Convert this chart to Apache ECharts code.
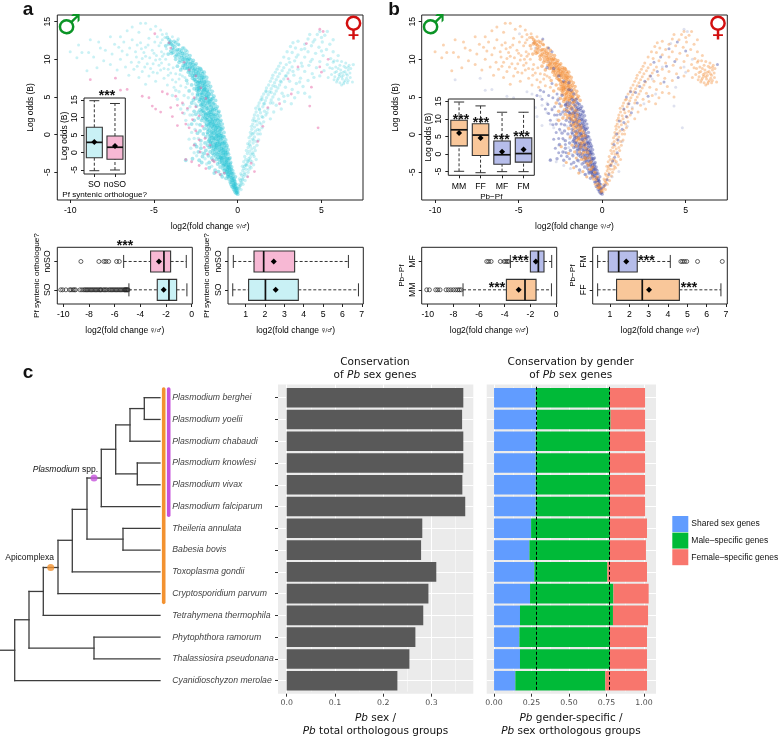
<!DOCTYPE html>
<html><head><meta charset="utf-8">
<script src="https://cdn.jsdelivr.net/npm/echarts@6/dist/echarts.min.js"></script>
<style>html,body{margin:0;padding:0;background:#fff}#c{width:779px;height:737px}</style>
</head><body><div id="c"></div>
<script>
// ---------- volcano points: [log2FC, log odds] ----------
const bandUpperOrange=[[-2.2,7.9],[-2.05,7.6],[-2.35,8.2],[-2.5,8.4],[-2.15,7.2],[-1.95,7.0],[-2.3,7.5],[-2.45,7.9],[-2.6,8.7],[-2.75,9.1],[-2.4,8.6],[-2.55,9.2],[-2.85,9.4],[-2.95,9.8],[-2.7,9.6],[-3.05,10.2],[-3.2,10.4],[-2.9,10.1],[-3.1,9.6],[-3.3,10.8],[-3.45,10.9],[-3.6,11.3],[-3.35,11.1],[-3.75,11.7],[-3.9,11.5],[-4.05,12.2],[-4.1,12.6],[-3.95,12.0],[-3.8,12.4],[-4.2,12.9],[-4.3,11.8],[-3.65,10.6],[-3.5,10.3],[-3.85,10.9],[-4.0,11.1],[-4.15,10.7],[-2.1,8.1],[-2.25,8.8],[-2.65,8.2],[-2.8,8.6],[-3.0,9.0],[-3.15,9.2],[-3.3,9.7],[-3.45,9.9],[-3.25,10.0],[-3.7,10.0],[-2.0,6.5],[-2.1,6.8],[-2.25,6.9],[-2.4,7.0],[-2.55,7.3],[-1.85,6.3],[-1.95,6.1],[-2.2,6.3],[-2.35,6.5],[-2.5,6.7],[-1.9,5.6],[-2.05,5.8],[-2.15,5.5],[-2.3,5.9],[-1.75,5.1],[-1.85,4.9],[-2.0,5.1],[-2.2,4.9],[-2.4,5.4],[-2.6,6.1],[-2.7,7.5],[-2.85,7.9],[-2.95,8.3],[-3.4,8.6],[-3.6,9.1],[-2.75,6.6],[-3.05,7.2],[-2.9,5.8],[-1.65,4.4],[-1.8,4.2],[-1.95,4.5],[-2.1,4.1],[-2.3,4.4],[-2.5,4.8],[-1.6,3.9],[-1.75,3.6],[-1.9,3.4],[-2.05,3.7],[-2.25,3.3],[-2.45,3.8],[-1.5,3.2],[-1.65,3.0],[-1.8,2.8],[-2.6,3.1],[-2.75,4.2],[-2.2,2.7],[-1.45,2.5],[-1.55,2.2],[-1.7,2.4],[-1.9,2.1],[-2.05,2.5],[-2.35,2.2],[-1.35,1.9],[-1.5,1.6],[-1.65,1.8],[-1.85,1.4],[-2.6,1.9],[-1.25,1.2],[-1.4,1.1],[-1.6,0.9],[-1.75,1.1],[-2.0,0.8],[-1.2,0.6],[-1.35,0.4],[-1.55,0.3],[-1.7,0.6],[-1.1,0.0],[-1.25,-0.2],[-1.45,-0.4],[-1.6,-0.1],[-1.9,-0.3],[-1.0,-0.6],[-1.2,-0.9],[-1.35,-1.1],[-1.55,-0.8],[-0.95,-1.3],[-1.1,-1.6],[-1.3,-1.8],[-0.85,-2.0],[-1.0,-2.3],[-1.2,-2.6],[-0.75,-2.7],[-0.9,-3.1],[-1.1,-3.3],[-0.65,-3.5],[-0.8,-3.9],[-0.6,-4.3],[-0.5,-5.0],[-0.35,-5.7],[-0.25,-6.4],[-0.15,-7.0]];
const bandLowerBlue=[[-1.15,2.9],[-1.3,3.5],[-1.45,4.1],[-1.55,4.7],[-1.7,5.4],[-1.85,5.9],[-2.0,6.9],[-1.05,1.7],[-1.15,2.2],[-1.3,2.7],[-1.4,3.3],[-1.6,2.7],[-1.75,3.2],[-1.95,2.9],[-2.15,3.1],[-2.35,3.0],[-0.95,0.7],[-1.05,1.1],[-1.15,1.5],[-1.3,0.8],[-1.45,1.4],[-1.7,1.5],[-1.95,1.7],[-2.15,1.9],[-2.25,1.3],[-0.88,-0.2],[-1.0,0.2],[-1.15,-0.4],[-1.3,0.1],[-1.45,0.6],[-1.65,-0.5],[-1.8,0.3],[-2.05,0.1],[-2.25,0.5],[-0.78,-1.0],[-0.9,-0.9],[-1.05,-1.2],[-1.2,-0.6],[-1.4,-1.4],[-1.6,-1.2],[-1.75,-0.9],[-1.95,-1.1],[-2.2,-0.8],[-0.68,-1.7],[-0.8,-1.5],[-0.92,-2.1],[-1.1,-2.0],[-1.25,-1.4],[-1.45,-1.9],[-1.7,-1.7],[-1.9,-2.1],[-2.2,-1.8],[-0.62,-2.4],[-0.72,-2.1],[-0.85,-2.7],[-1.0,-2.8],[-1.3,-2.9],[-1.5,-2.5],[-1.75,-2.8],[-2.1,-2.9],[-0.52,-3.2],[-0.65,-3.0],[-0.78,-3.4],[-0.95,-3.6],[-1.2,-3.9],[-1.45,-3.4],[-1.7,-3.7],[-2.3,-3.4],[-0.45,-3.9],[-0.55,-4.0],[-0.7,-4.2],[-0.88,-4.5],[-1.05,-4.3],[-1.35,-4.7],[-0.38,-4.6],[-0.5,-4.7],[-0.62,-4.9],[-0.78,-5.1],[-1.0,-5.3],[-0.32,-5.2],[-0.42,-5.4],[-0.55,-5.6],[-0.7,-5.8],[-0.22,-5.9],[-0.3,-6.1],[-0.45,-6.3],[-0.15,-6.5],[-0.22,-6.8],[-0.35,-6.9],[-0.08,-7.2],[-0.14,-7.4],[-0.24,-7.3],[-0.04,-7.7],[-0.09,-7.8],[0.0,-7.9],[-0.18,-6.2],[-0.6,-5.2],[-0.47,-4.2],[-0.57,-3.4],[-0.7,-2.6],[-0.82,-1.2],[-0.98,-0.1],[-1.1,0.9],[-1.22,2.0],[-1.37,2.4],[-1.52,3.4],[-1.68,4.0],[-1.8,4.7],[-2.0,6.0],[-2.3,7.1],[-2.6,7.8],[-2.9,8.8],[-3.3,8.9],[-2.4,5.2],[-2.65,4.6],[-2.2,3.9],[-2.5,2.7],[-2.75,1.4],[-2.4,0.2],[-2.55,-1.3],[-2.35,-2.3],[-2.7,-3.2],[-3.1,-3.4]];
const bandCoreOrange=[[-1.02,-0.15],[-1.12,0.35],[-1.27,0.95],[-1.38,1.75],[-1.5,2.7],[-1.62,3.3],[-1.72,4.3],[-1.87,5.2],[-2.02,6.3],[-2.18,7.0],[-1.42,-0.7],[-1.28,-1.55],[-1.12,-2.35],[-0.97,-3.2],[-0.82,-4.1],[-0.65,-4.6],[-0.55,-4.3],[-0.42,-5.0],[-0.6,-5.5],[-0.28,-5.6],[-0.37,-6.0],[-0.2,-6.6],[-0.12,-6.9],[-0.03,-7.4],[-0.07,-7.6],[-0.19,-7.1],[-0.75,-3.1],[-0.68,-3.7],[-0.87,-2.4],[-0.98,-1.8],[-1.08,-1.0],[-1.18,-0.2],[-1.33,0.6],[-1.47,1.3],[-1.58,2.0],[-1.73,2.6],[-1.88,3.8],[-2.03,4.6],[-2.13,5.3],[-2.28,6.2],[-2.42,6.1],[-2.18,4.6],[-2.08,3.2],[-1.82,2.3],[-1.68,1.3],[-1.52,0.1],[-1.38,-0.5],[-1.22,-1.2],[-1.05,-3.0],[-0.92,-3.8],[-0.75,-4.6],[-0.52,-5.9],[-0.4,-6.6],[-0.28,-7.0],[-1.48,0.85],[-1.62,1.45],[-1.78,1.95],[-1.92,2.55],[-2.1,2.2],[-1.35,-2.3],[-1.55,-1.5],[-1.8,-1.4],[-1.65,-2.3],[-2.0,-2.5],[-2.45,-1.6],[-2.15,-3.7],[-1.55,-3.1],[-1.25,-3.3],[-1.7,-4.4],[-1.4,-5.1],[-1.15,-4.9],[-0.92,-5.6]];
const denseBlue=[[-0.06,-7.1],[-0.17,-7.6],[-0.11,-6.6],[-0.27,-6.7],[-0.2,-6.1],[-0.38,-6.3],[-0.14,-5.6],[-0.33,-5.8],[-0.48,-5.5],[-0.24,-5.2],[-0.4,-5.1],[-0.57,-5.3],[-0.66,-5.0],[-0.3,-4.8],[-0.46,-4.6],[-0.62,-4.7],[-0.8,-4.8],[-0.36,-4.3],[-0.53,-4.4],[-0.7,-4.0],[-0.88,-4.1],[-0.42,-3.7],[-0.6,-3.8],[-0.76,-3.6],[-0.95,-3.4],[-1.08,-3.7],[-0.46,-3.1],[-0.63,-3.2],[-0.83,-3.0],[-1.0,-3.1],[-1.17,-3.0],[-0.55,-2.6],[-0.72,-2.4],[-0.9,-2.5],[-1.08,-2.7],[-1.28,-2.5],[-1.42,-2.7],[-0.57,-2.0],[-0.75,-2.2],[-0.94,-1.9],[-1.14,-2.1],[-1.33,-2.0],[-1.5,-2.1],[-0.63,-1.5],[-0.84,-1.7],[-1.03,-1.5],[-1.22,-1.7],[-1.4,-1.6],[-1.58,-1.6],[-0.7,-1.2],[-0.9,-1.1],[-1.1,-1.3],[-1.3,-1.2],[-1.5,-1.1],[-1.63,-1.0],[-0.72,-0.7],[-0.93,-0.5],[-1.13,-0.8],[-1.32,-0.6],[-1.55,-0.4],[-1.7,-0.7],[-0.8,-0.3],[-1.02,-0.4],[-1.24,-0.1],[-1.42,-0.2],[-1.66,-0.2],[-0.82,0.3],[-1.05,0.5],[-1.22,0.2],[-1.42,0.2],[-1.6,0.4],[-1.78,0.1],[-0.88,0.9],[-1.02,0.75],[-1.2,1.0],[-1.36,1.25],[-1.55,1.1],[-1.8,0.7],[-0.92,1.4],[-1.1,1.3],[-1.28,1.5],[-1.53,1.75],[-1.72,1.7],[-1.88,1.2],[-1.0,1.9],[-1.18,1.85],[-1.32,2.15],[-1.48,2.05],[-1.62,2.35],[-1.83,1.95],[-1.96,2.2],[-1.05,2.5],[-1.22,2.55],[-1.42,2.8],[-1.58,3.0],[-1.72,2.85],[-1.9,2.7],[-2.02,3.0],[-1.12,3.1],[-1.27,3.2],[-1.44,3.6],[-1.58,3.7],[-1.83,3.5],[-1.98,3.9],[-2.12,3.5],[-1.22,3.7],[-1.36,4.0],[-1.52,4.3],[-1.72,4.5],[-1.92,4.2],[-2.08,4.3],[-2.18,4.0]];
const denseOrange=[[-1.32,4.55],[-1.48,4.85],[-1.63,4.7],[-1.78,5.0],[-1.95,4.8],[-2.12,4.9],[-2.28,4.7],[-1.42,5.1],[-1.57,5.35],[-1.75,5.55],[-1.93,5.35],[-2.1,5.6],[-2.25,5.3],[-2.35,5.7],[-1.52,5.75],[-1.68,6.0],[-1.82,5.75],[-2.0,5.95],[-2.18,6.0],[-2.32,6.15],[-2.45,5.9],[-1.62,6.4],[-1.78,6.55],[-1.93,6.7],[-2.1,6.5],[-2.27,6.6],[-2.44,6.4],[-1.72,6.9],[-1.86,7.15],[-2.03,7.3],[-2.18,7.5],[-2.35,6.9],[-2.5,7.1],[-2.6,7.3],[-1.85,7.6],[-1.98,7.8],[-2.12,7.65],[-2.28,7.9],[-2.42,7.6],[-2.55,7.9],[-2.7,7.8],[-2.0,8.3],[-2.15,8.4],[-2.32,8.35],[-2.48,8.1],[-2.62,8.5],[-2.78,8.2],[-2.9,8.5],[-2.2,8.7],[-2.38,8.9],[-2.55,8.8],[-2.7,8.9],[-2.85,9.0],[-3.02,8.8],[-3.15,8.8],[-2.48,9.4],[-2.65,9.3],[-2.8,9.5],[-2.98,9.4],[-3.12,9.4],[-3.25,9.2],[-2.65,9.85],[-2.82,10.0],[-3.0,9.95],[-3.15,10.0],[-3.32,10.2],[-3.5,9.6],[-2.85,10.5],[-3.02,10.6],[-3.18,10.8],[-3.36,10.5],[-3.55,10.7],[-3.72,10.4],[-3.1,11.2],[-3.28,11.5],[-3.47,11.3],[-3.65,11.1],[-3.82,11.3],[-3.95,10.8],[-3.55,12.0],[-3.7,12.2],[-3.88,11.9],[-4.0,12.4],[-4.12,12.05]];
const upperCloudOrange=[[-5.8,14.8],[-5.5,14.8],[-6.3,14.3],[-4.9,14.4],[-4.6,13.9],[-5.2,14.0],[-5.9,13.6],[-6.6,13.8],[-7.0,13.0],[-7.6,13.0],[-8.3,12.3],[-8.8,12.6],[-9.5,11.9],[-10.0,11.0],[-9.3,10.9],[-8.6,10.3],[-8.0,9.8],[-7.5,10.7],[-7.1,11.6],[-6.8,12.3],[-6.3,12.6],[-5.8,12.2],[-5.3,12.8],[-4.8,13.0],[-4.5,12.6],[-4.7,11.8],[-5.1,11.2],[-5.6,10.9],[-6.1,11.0],[-6.6,10.6],[-7.0,10.0],[-7.6,9.3],[-8.4,8.9],[-9.0,8.5],[-5.9,9.6],[-5.4,9.4],[-4.9,9.9],[-4.5,10.4],[-4.3,10.0],[-4.7,9.2],[-5.2,8.8],[-5.7,8.4],[-6.2,8.7],[-6.7,9.0],[-7.2,8.6],[-6.5,7.9],[-5.9,7.6],[-5.3,7.8],[-4.8,8.2],[-4.4,8.8],[-4.1,9.3],[-4.0,8.2],[-4.4,7.5],[-4.9,7.1],[-5.5,6.7],[-3.9,7.3],[-3.7,8.1],[-3.5,7.4],[-4.2,6.6],[-3.8,6.3],[-3.4,6.5],[-3.3,7.8],[-3.1,6.3],[-4.6,12.2],[-4.35,12.9],[-4.5,13.3],[-4.25,13.4],[-3.9,13.0],[-5.5,11.6],[-6.0,11.9],[-6.9,11.1],[-4.25,11.4],[-4.55,11.0],[-4.4,10.7],[-4.85,10.5],[-5.25,10.2],[-5.7,10.1],[-6.35,9.6],[-3.6,12.5],[-3.5,11.9],[-4.95,12.3],[-5.35,11.9],[-5.75,11.4],[-6.45,11.5],[-7.35,12.0],[-7.9,11.2],[-8.9,10.9],[-9.6,10.2],[-8.2,11.5],[-6.05,10.3],[-5.0,10.8],[-5.5,10.4],[-4.65,10.0],[-5.05,9.4],[-5.55,9.0],[-6.0,9.1],[-4.55,9.5],[-4.15,8.7],[-4.6,8.6],[-5.05,8.3],[-3.85,8.9],[-3.45,8.0],[-3.15,7.6],[-4.15,7.9],[-3.7,7.0]];
const midScatterBlue=[[-3.5,5.7],[-3.2,5.2],[-2.95,4.9],[-3.25,4.0],[-3.6,4.7],[-3.9,5.2],[-3.0,3.3],[-2.85,2.6],[-3.2,2.8],[-2.95,1.3],[-2.75,0.3],[-2.9,-0.6],[-3.1,1.9],[-3.4,3.4],[-3.0,6.8],[-3.7,5.9],[-2.8,-1.8],[-2.6,-2.4],[-3.55,12.7],[-3.2,11.5],[-3.0,11.0],[-2.7,5.4],[-2.85,3.7],[-2.55,4.1],[-2.7,2.6],[-2.45,1.4],[-2.55,0.7],[-2.35,-0.5],[-2.6,-0.5],[-2.2,-1.3],[-2.45,-2.8],[-2.15,-2.4],[-1.95,-3.2],[-1.85,-3.9],[-1.55,-4.2]];
const rightBandOrange=[[0.05,-7.6],[0.1,-7.1],[0.14,-6.8],[0.2,-6.3],[0.27,-5.9],[0.24,-5.4],[0.35,-5.6],[0.42,-5.1],[0.3,-4.8],[0.5,-4.6],[0.62,-5.0],[0.4,-4.2],[0.55,-3.9],[0.72,-4.2],[0.48,-3.3],[0.66,-3.2],[0.85,-3.6],[0.58,-2.5],[0.78,-2.6],[0.98,-2.9],[0.63,-1.7],[0.84,-1.9],[1.05,-2.1],[0.72,-0.9],[0.92,-1.1],[1.15,-1.4],[0.78,-0.1],[1.0,-0.3],[1.25,-0.7],[0.84,0.7],[1.07,0.5],[1.35,0.1],[0.9,1.4],[1.15,1.3],[1.45,0.9],[0.97,2.2],[1.25,2.1],[1.55,1.7],[1.1,3.0],[1.36,2.9],[1.68,2.6],[1.95,2.1],[1.22,3.8],[1.5,3.7],[1.8,3.4],[2.15,3.0],[1.38,4.6],[1.65,4.5],[1.95,4.2],[2.3,3.9],[2.6,3.4],[1.55,5.4],[1.82,5.3],[2.1,5.0],[2.45,4.7],[2.8,4.4],[3.2,4.1],[1.72,6.2],[2.0,6.1],[2.3,5.8],[2.65,5.5],[3.0,5.2],[3.4,4.9],[1.95,7.1],[2.2,6.9],[2.5,6.6],[2.85,6.3],[3.25,6.0],[3.6,5.6],[4.0,5.5],[2.1,7.9],[2.4,7.7],[2.75,7.4],[3.1,7.1],[3.5,6.8],[3.9,6.4],[4.3,5.0],[2.35,8.7],[2.65,8.5],[3.0,8.2],[3.35,7.9],[3.75,7.5],[4.2,7.2],[2.55,9.5],[2.9,9.3],[3.25,9.0],[3.6,8.7],[4.0,8.4],[4.45,8.1],[4.9,7.8],[2.75,10.3],[3.05,10.1],[3.4,9.8],[3.8,9.5],[4.25,9.2],[4.7,8.9],[5.15,8.5],[2.95,11.0],[3.25,10.9],[3.6,10.6],[4.0,10.3],[4.45,10.0],[4.9,9.7],[5.35,9.3],[3.15,11.7],[3.45,11.5],[3.8,11.3],[4.2,11.0],[4.65,10.8],[5.1,10.5],[5.55,10.1],[3.3,12.2],[3.6,12.4],[4.0,12.0],[4.4,11.8],[4.85,11.6],[5.3,11.3],[5.7,11.0],[4.2,12.7],[4.6,12.6],[5.05,12.3],[5.5,12.0],[4.3,13.3],[4.75,13.3],[5.2,13.2],[4.9,13.7],[5.35,13.7],[5.0,12.9],[5.7,12.6],[6.0,10.5],[5.75,9.8],[0.2,-7.3],[0.32,-6.6],[0.44,-6.1],[0.55,-5.5],[0.68,-4.6],[0.8,-4.4],[0.95,-4.0],[1.1,-3.3],[0.03,-7.2],[0.09,-6.6],[0.16,-6.1],[0.11,-5.9],[0.25,-6.4],[0.19,-5.2],[0.36,-4.5],[0.28,-4.2],[0.47,-4.0],[0.36,-3.6],[0.6,-3.6],[0.42,-2.9],[0.74,-3.4],[0.52,-2.1],[0.7,-2.2],[0.92,-2.6],[0.6,-1.2],[0.76,-1.5],[1.0,-1.7],[0.68,-0.4],[0.88,-0.6],[1.1,-0.9],[0.76,0.3],[0.95,0.2],[1.2,0.1],[0.82,1.1],[1.0,1.0],[1.3,0.6],[0.9,1.9],[1.12,1.8],[1.4,1.4],[1.0,2.6],[1.2,2.5],[1.5,2.3],[1.08,3.5],[1.3,3.3],[1.6,3.1],[1.28,4.2],[1.55,4.1],[1.45,4.7],[1.72,4.9],[2.0,4.6],[1.68,5.8],[1.9,5.7],[2.2,5.4],[1.85,6.6],[2.1,6.5],[2.4,6.2],[2.05,7.5],[2.3,7.3],[2.6,7.0],[2.25,8.3],[2.5,8.1],[2.85,7.8],[2.45,9.1],[2.75,8.9],[3.1,8.6]];
const rightClusterOrange=[[5.7,9.6],[5.95,9.8],[6.2,9.7],[6.45,9.5],[6.65,9.2],[6.75,8.8],[6.6,8.6],[6.35,9.1],[6.1,9.2],[5.85,9.0],[5.65,8.8],[5.9,8.4],[6.15,8.6],[6.4,8.4],[6.7,8.2],[6.55,7.9],[6.3,7.9],[6.05,8.0],[5.8,7.7],[5.6,8.0],[5.75,7.3],[6.0,7.5],[6.25,7.4],[6.5,7.5],[6.72,7.6],[6.35,7.0],[6.1,6.9],[5.9,7.0],[6.2,6.6],[6.55,6.9],[6.45,8.9],[5.5,8.9],[5.4,7.6],[6.85,7.0],[6.3,8.3],[6.0,8.8],[6.22,7.7],[6.42,7.2],[6.48,8.1],[6.6,7.2],[6.15,8.15],[5.95,7.25],[6.08,7.75],[6.32,6.75],[6.6,8.95],[5.8,8.25]];
const rightBlue=[[0.08,-6.9],[0.18,-6.7],[0.3,-6.0],[0.4,-5.3],[0.52,-4.1],[0.63,-3.5],[0.75,-3.0],[0.9,-2.4],[0.7,-1.3],[0.95,-0.7],[0.87,0.1],[1.2,0.7],[1.02,1.8],[1.3,1.6],[1.45,2.4],[1.75,2.9],[1.3,3.4],[1.6,4.1],[1.45,5.0],[1.7,5.7],[2.0,5.6],[2.25,6.4],[2.55,7.1],[2.9,7.8],[3.3,8.4],[3.1,9.6],[3.5,10.3],[3.85,9.1],[4.35,9.7],[4.0,11.4],[4.5,12.3],[4.55,7.6],[3.7,7.0],[2.75,5.1],[6.9,9.3],[5.0,11.1],[2.1,4.2]];
const pinkPoints=[[-8.8,7.3],[-7.3,7.5],[-6.6,6.0],[-7.0,5.9],[-5.7,5.1],[-5.3,4.9],[-5.1,3.8],[-4.5,5.7],[-4.2,5.4],[-4.9,3.4],[-4.6,3.0],[-4.0,3.6],[-3.7,5.1],[-3.3,4.2],[-3.6,3.9],[-3.9,2.4],[-3.3,2.9],[-3.0,3.5],[-3.1,1.4],[-3.6,1.2],[-2.6,4.9],[-2.5,3.7],[-2.7,2.0],[-2.9,0.9],[-2.3,2.5],[-2.5,0.5],[-2.1,1.1],[-2.3,-0.7],[-2.6,-1.4],[-2.0,-1.7],[-2.25,-2.3],[-1.8,-2.6],[-1.95,-0.5],[-3.1,-3.3],[-2.75,-3.6],[-2.3,-4.1],[-1.9,-4.5],[-1.5,-3.4],[-1.3,-5.0],[-1.05,-5.3],[-0.8,-5.1],[-1.65,-1.4],[-1.4,-3.6],[-4.95,13.4],[-4.1,12.2],[-4.0,11.5],[-2.9,8.6],[-3.2,9.6],[-2.5,7.8],[-2.2,6.2],[-1.9,4.8],[4.9,14.0],[5.1,13.7],[4.1,12.1],[3.6,9.0],[3.0,7.4],[4.4,6.3],[5.0,8.3],[4.3,3.8],[4.8,0.9],[2.5,4.1],[1.8,3.6],[1.5,1.1],[1.2,-0.9],[0.8,-3.8],[0.6,-5.6],[1.0,-4.9],[4.9,9.0],[3.2,5.4],[5.4,10.0]];

// ---------- inset and lower box plots: [category, low, q1, median, q3, high, mean] ----------
const soCategories=['SO','noSO'];
const insetSO=[[0,-5.2,-1.5,2.9,7.2,14.8,3.0],[1,-5.0,-1.94,1.5,4.7,14.0,1.86]];
const pbPfCategories=['MM','FF','MF','FM'];
const insetPbPf=[[0,-4.9,2.34,6.9,9.6,14.8,5.97],[1,-5.3,-0.43,5.4,8.6,13.7,4.54],[2,-5.0,-2.9,-0.2,3.7,11.9,0.63],[3,-5.0,-2.3,0.14,4.6,11.9,1.29]];
const lowerSyntenyCats=['SO','noSO'];
const maleFCSynteny=[[0,-4.89,-2.68,-1.77,-1.17,-0.37,-2.18],[1,-5.3,-3.2,-2.16,-1.64,-0.42,-2.55]];
const femaleFCSynteny=[[0,0.33,1.15,2.02,3.72,6.83,2.55],[1,0.36,1.43,1.93,3.53,6.31,2.45]];
const maleOutliersSO=[-10.2,-10.05,-9.8,-9.5,-9.4,-9.25,-9.15,-9.05,-8.7,-8.55,-8.4,-8.3,-8.2,-8.1,-8.0,-7.9,-7.8,-7.7,-7.6,-7.5,-7.4,-7.3,-7.2,-7.1,-7.05,-6.9,-6.8,-6.7,-6.6,-6.45,-6.35,-6.25,-6.15,-6.05,-5.95,-5.85,-5.75,-5.65,-5.55,-5.45,-5.35,-5.25,-5.2,-5.15,-5.1,-5.05,-5.0,-4.95];
const maleOutliersNoSO=[-8.63,-7.23,-6.84,-6.68,-6.47,-5.85,-5.64];
const malePbPfCats=['MM','MF'];
const malePbPf=[[0,-7.25,-3.87,-2.42,-1.56,-0.36,-2.91],[1,-3.56,-2.0,-1.38,-0.94,-0.34,-1.58]];
const maleOutliersMM=[-10.08,-9.87,-9.38,-9.22,-9.04,-8.57,-8.39,-8.2,-8.0,-7.82,-7.66,-7.53,-7.4];
const maleOutliersMF=[-5.4,-5.25,-5.06,-4.34,-4.05,-3.92,-3.79,-3.69];
const femalePbPfCats=['FF','FM'];
const femalePbPf=[[0,0.36,1.34,2.67,4.59,6.74,3.02],[1,0.36,0.91,1.45,2.41,4.12,1.84]];
const femaleOutliersFM=[4.67,4.76,4.86,4.97,5.53,6.81];

// ---------- panel c ----------
const species=['Plasmodium berghei','Plasmodium yoelii','Plasmodium chabaudi','Plasmodium knowlesi','Plasmodium vivax','Plasmodium falciparum','Theileria annulata','Babesia bovis','Toxoplasma gondii','Cryptosporidium parvum','Tetrahymena thermophila','Phytophthora ramorum','Thalassiosira pseudonana','Cyanidioschyzon merolae'];
const pbSexShare=[.366,.3635,.366,.366,.364,.37,.281,.2785,.31,.2937,.283,.2667,.2543,.2294];
const sharedShare=[.278,.284,.278,.278,.278,.278,.247,.236,.269,.24,.173,.169,.173,.142];
const maleShare=[.495,.493,.495,.495,.495,.495,.526,.537,.487,.556,.62,.604,.6,.6];
const femaleShare=[.234,.23,.234,.234,.234,.234,.247,.24,.264,.235,.234,.247,.247,.278];
const genderGuides=[.278,.773];
const legendNames=['Shared sex genes','Male–specific genes','Female–specific genes'];
// tree edges in [depth, row, depth, row]
const treeEdges=[[144.3,1,160,1],[144.3,2,160,2],[144.3,1,144.3,2],[130,1.5,144.3,1.5],[130,3,160,3],[130,1.5,130,3],[137.3,4,160,4],[137.3,5,160,5],[137.3,4,137.3,5],[115.7,2.25,130,2.25],[115.7,4.5,137.3,4.5],[115.7,2.25,115.7,4.5],[101.3,3.37,115.7,3.37],[101.3,6,160,6],[101.3,3.37,101.3,6],[123,7,160,7],[123,8,160,8],[123,7,123,8],[87,4.69,101.3,4.69],[87,7.5,123,7.5],[87,4.69,87,7.5],[72.3,6.13,87,6.13],[72.3,9,160,9],[72.3,6.13,72.3,9],[58,7.55,72.3,7.55],[58,10,160,10],[58,7.55,58,10],[43.3,8.8,58,8.8],[43.3,11,160,11],[43.3,8.8,43.3,11],[94,12,160,12],[94,13,160,13],[94,12,94,13],[29,9.9,43.3,9.9],[29,12.5,94,12.5],[29,9.9,29,12.5],[14.7,11.2,29,11.2],[14.7,14,160,14],[14.7,11.2,14.7,14],[0,12.6,14.7,12.6]];
const cladeBars=[[163.7,0.6,163.7,10.4,'#F39230'],[168.7,0.6,168.7,6.4,'#C552DC']];
const cladeDots=[[94,4.69,'#C552DC'],[50.7,8.8,'#F39230']];

// ---------- helpers ----------
const SANS='"Liberation Sans",Arial,sans-serif', DJV='"DejaVu Sans",sans-serif';
const cyan='rgba(38,196,212,.5)', cyanPale='rgba(38,196,212,.3)', orange='rgba(243,140,50,.62)', orangePale='rgba(243,146,62,.5)', blue='rgba(56,66,160,.5)', pink='rgba(232,110,170,.65)', paleBlue='rgba(120,130,190,.3)';
const grids=[], xAxes=[], yAxes=[], series=[];
function addGrid(l,t,r,b,opt){grids.push(Object.assign({left:l,top:t,width:r-l,height:b-t,show:true,backgroundColor:'transparent',borderColor:'#222',borderWidth:1,containLabel:false},opt||{}));return grids.length-1;}
const baseLabel={fontFamily:SANS,fontSize:8.7,color:'#000'};
const nameStyle=size=>({fontFamily:SANS,fontSize:size||8.5,color:'#000',rich:{s:{fontFamily:DJV,fontSize:5.5,color:'#111'}}});
function valX(g,min,max,ticks,extra){return Object.assign({type:'value',gridIndex:g,min,max,position:'bottom',axisLine:{show:false,onZero:false},splitLine:{show:false},axisTick:{show:true,length:3,customValues:ticks,lineStyle:{color:'#222'}},axisLabel:Object.assign({},baseLabel,{margin:6,customValues:ticks,hideOverlap:false,showMinLabel:true,showMaxLabel:true}),nameLocation:'middle',nameGap:22,nameTextStyle:nameStyle()},extra||{});}
function valY(g,min,max,ticks,extra){return Object.assign({type:'value',gridIndex:g,min,max,position:'left',axisLine:{show:false,onZero:false},splitLine:{show:false},axisTick:{show:true,length:3,customValues:ticks,lineStyle:{color:'#222'}},axisLabel:Object.assign({},baseLabel,{rotate:90,margin:5,customValues:ticks,showMinLabel:true,showMaxLabel:true}),nameLocation:'middle',nameGap:22,nameRotate:90,nameTextStyle:nameStyle()},extra||{});}
function catAxis(g,data,extra){return Object.assign({type:'category',gridIndex:g,data,axisLine:{show:false,onZero:false},splitLine:{show:false},axisTick:{show:true,length:3,alignWithLabel:true,lineStyle:{color:'#222'}},axisLabel:Object.assign({},baseLabel,{interval:0,margin:5}),nameLocation:'middle',nameTextStyle:nameStyle(8.1)},extra||{});}
function boxRender(horizontal,thick,colors){return function(p,api){
  const c=api.value(0),v=i=>api.value(i);
  const pt=(val,off)=>{const q=horizontal?api.coord([val,c]):api.coord([c,val]);return horizontal?[q[0],q[1]+(off||0)]:[q[0]+(off||0),q[1]];};
  const ln=(a,b,style)=>({type:'line',shape:{x1:a[0],y1:a[1],x2:b[0],y2:b[1]},style});
  const dash={stroke:'#333',lineWidth:1,lineDash:[3,2]},solid={stroke:'#333',lineWidth:1};
  const h=thick/2,cap=h*0.62;
  const a=pt(v(2),-h),b=pt(v(4),h);
  const mid=pt(v(6),0),d=3;
  return {type:'group',children:[
    ln(pt(v(1)),pt(v(2)),dash),ln(pt(v(4)),pt(v(5)),dash),
    ln(pt(v(1),-cap),pt(v(1),cap),solid),ln(pt(v(5),-cap),pt(v(5),cap),solid),
    {type:'rect',shape:{x:Math.min(a[0],b[0]),y:Math.min(a[1],b[1]),width:Math.abs(a[0]-b[0]),height:Math.abs(a[1]-b[1])},style:{fill:colors[c],stroke:'#333',lineWidth:1.1}},
    ln(pt(v(3),-h),pt(v(3),h),{stroke:'#111',lineWidth:1.7}),
    {type:'polygon',shape:{points:[[mid[0]-d,mid[1]],[mid[0],mid[1]-d],[mid[0]+d,mid[1]],[mid[0],mid[1]+d]]},style:{fill:'#000'}}
  ]};
};}
function addBoxes(g,data,horizontal,thick,colors,z){series.push({type:'custom',xAxisIndex:g,yAxisIndex:g,z:z||3,clip:false,renderItem:boxRender(horizontal,thick,colors),encode:horizontal?{x:[1,2,3,4,5,6],y:0}:{x:0,y:[1,2,3,4,5,6]},data});}
function addOutliers(g,values,cat){series.push({type:'scatter',xAxisIndex:g,yAxisIndex:g,z:2,symbol:'circle',symbolSize:4,itemStyle:{color:'rgba(255,255,255,0)',borderColor:'#222',borderWidth:.7,opacity:1},data:values.map(v=>[v,cat])});}
function scatter(g,data,color,size){series.push({type:'scatter',xAxisIndex:g,yAxisIndex:g,z:2,symbolSize:size||3,itemStyle:{color,borderWidth:0},data,large:false});}
const volX=[-10,-5,0,5],volY=[-5,0,5,10,15];
const log2Name='log2(fold change {s|♀/♂})';

// ---------- panel a ----------
let g=addGrid(57.3,15,363,200);
xAxes.push(valX(g,-10.77,7.48,volX,{name:log2Name,nameGap:22.5}));
yAxes.push(valY(g,-8.68,15.89,volY,{name:'Log odds (B)',nameGap:22}));
[upperCloudOrange,rightClusterOrange].forEach(d=>scatter(g,d,cyanPale,3));
[bandUpperOrange,denseOrange,bandLowerBlue,denseBlue,bandCoreOrange].forEach(d=>scatter(g,d,cyan,3.8));
[midScatterBlue,rightBandOrange,rightBlue].forEach(d=>scatter(g,d,cyanPale,3.4));
scatter(g,pinkPoints,pink,2.8);
g=addGrid(84,98,125.3,174,{z:5,backgroundColor:'#fff'});
xAxes.push(catAxis(g,soCategories,{z:7,name:'Pf syntenic orthologue?',nameGap:17,axisLabel:Object.assign({},baseLabel,{interval:0,margin:6})}));
yAxes.push(valY(g,-6.14,15.57,volY,{z:7,name:'Log odds (B)',nameGap:15}));
addBoxes(g,insetSO,false,16,['#C9F1F5','#F7B8D4'],6);
g=addGrid(57.3,247.3,192.3,304);
xAxes.push(valX(g,-10.47,0.05,[-10,-8,-6,-4,-2,0],{name:log2Name,nameGap:22.5}));
yAxes.push(catAxis(g,lowerSyntenyCats,{name:'Pf syntenic orthologue?',nameRotate:90,nameGap:17,axisLabel:Object.assign({},baseLabel,{rotate:90,interval:0,margin:5})}));
addOutliers(g,maleOutliersSO,0);addOutliers(g,maleOutliersNoSO,1);
addBoxes(g,maleFCSynteny,true,21,['#C9F1F5','#F7B8D4']);
g=addGrid(228,247.3,363.3,304);
xAxes.push(valX(g,0.085,7.08,[1,2,3,4,5,6,7],{name:log2Name,nameGap:22.5}));
yAxes.push(catAxis(g,lowerSyntenyCats,{name:'Pf syntenic orthologue?',nameRotate:90,nameGap:17,axisLabel:Object.assign({},baseLabel,{rotate:90,interval:0,margin:5})}));
addBoxes(g,femaleFCSynteny,true,21,['#C9F1F5','#F7B8D4']);

// ---------- panel b ----------
g=addGrid(421.7,15,727.3,200);
xAxes.push(valX(g,-10.8,7.49,volX,{name:log2Name,nameGap:22.5}));
yAxes.push(valY(g,-8.68,15.89,volY,{name:'Log odds (B)',nameGap:22}));
scatter(g,pinkPoints,paleBlue,3);
[upperCloudOrange,rightBandOrange,rightClusterOrange].forEach(d=>scatter(g,d,orangePale,3));
[bandUpperOrange,denseOrange].forEach(d=>scatter(g,d,orange,3.6));
[midScatterBlue,rightBlue].forEach(d=>scatter(g,d,blue,3));
[bandLowerBlue,denseBlue].forEach(d=>scatter(g,d,blue,3.4));
scatter(g,bandCoreOrange,orange,3.2);
g=addGrid(448.3,99,534.3,175.3,{z:5,backgroundColor:'#fff'});
xAxes.push(catAxis(g,pbPfCategories,{z:7,name:'Pb−Pf',nameGap:17,axisLabel:Object.assign({},baseLabel,{interval:0,margin:7})}));
yAxes.push(valY(g,-6.04,15.66,volY,{z:7,name:'Log odds (B)',nameGap:15}));
addBoxes(g,insetPbPf,false,16.5,['#F9C79A','#F9C79A','#B6BDEA','#B6BDEA'],6);
g=addGrid(421.7,247.3,556.7,304);
xAxes.push(valX(g,-10.47,0.05,[-10,-8,-6,-4,-2,0],{name:log2Name,nameGap:22.5}));
yAxes.push(catAxis(g,malePbPfCats,{name:'Pb−Pf',nameRotate:90,nameGap:16,axisLabel:Object.assign({},baseLabel,{rotate:90,interval:0,margin:5})}));
addOutliers(g,maleOutliersMM,0);addOutliers(g,maleOutliersMF,1);
addBoxes(g,malePbPf,true,21,['#F9C79A','#B6BDEA']);
g=addGrid(592.7,247.3,727.3,304);
xAxes.push(valX(g,0.105,7.07,[1,2,3,4,5,6,7],{name:log2Name,nameGap:22.5}));
yAxes.push(catAxis(g,femalePbPfCats,{name:'Pb−Pf',nameRotate:90,nameGap:16,axisLabel:Object.assign({},baseLabel,{rotate:90,interval:0,margin:5})}));
addOutliers(g,femaleOutliersFM,1);
addBoxes(g,femalePbPf,true,21,['#F9C79A','#B6BDEA']);

// ---------- panel c: tree ----------
const rowTop=386.8,rowBottom=691.6;
g=addGrid(0,rowTop,172,rowBottom,{show:false});
xAxes.push({type:'value',gridIndex:g,min:0,max:172,show:false});
yAxes.push({type:'value',gridIndex:g,min:0.5,max:14.5,inverse:true,show:false});
series.push({type:'custom',xAxisIndex:g,yAxisIndex:g,clip:false,renderItem(p,api){const a=api.coord([api.value(0),api.value(1)]),b=api.coord([api.value(2),api.value(3)]);return {type:'line',shape:{x1:a[0],y1:a[1],x2:b[0],y2:b[1]},style:{stroke:'#3d3d3d',lineWidth:1.3,lineCap:'square'}};},encode:{x:[0,2],y:[1,3]},data:treeEdges});
series.push({type:'custom',xAxisIndex:g,yAxisIndex:g,clip:false,renderItem(p,api){const a=api.coord([api.value(0),api.value(1)]),b=api.coord([api.value(2),api.value(3)]);return {type:'line',shape:{x1:a[0],y1:a[1],x2:b[0],y2:b[1]},style:{stroke:cladeBars[p.dataIndex][4],lineWidth:3.6,lineCap:'round'}};},encode:{x:[0,2],y:[1,3]},data:cladeBars.map(r=>r.slice(0,4))});
series.push({type:'scatter',xAxisIndex:g,yAxisIndex:g,symbolSize:7,itemStyle:{color:p=>cladeDots[p.dataIndex][2]},data:cladeDots.map(r=>r.slice(0,2))});

// ---------- panel c: grey bars ----------
const panelTop=384.5,panelBottom=693.7;
const barMaj=[0,.1,.2,.3],barMin=[.05,.15,.25,.35];
const tickStyle={lineStyle:{color:'#333'},length:3};
g=addGrid(278,panelTop,473.3,panelBottom,{backgroundColor:'#EBEBEB',borderWidth:0});
xAxes.push({type:'value',gridIndex:g,min:-0.018,max:0.3867,axisLine:{show:false,onZero:false},axisTick:Object.assign({show:true,customValues:barMaj},tickStyle),axisLabel:{fontFamily:DJV,fontSize:7.8,color:'#4d4d4d',margin:5,customValues:barMaj,formatter:v=>v.toFixed(1)},splitLine:{show:true,lineStyle:{color:'#fff',width:1}}});
yAxes.push({type:'value',gridIndex:g,min:0,max:1,show:false});
g=addGrid(278,rowTop,473.3,rowBottom,{show:false});
xAxes.push({type:'value',gridIndex:g,min:-0.018,max:0.3867,axisLine:{show:false,onZero:false},axisTick:{show:false,customValues:barMin},axisLabel:{show:false},splitLine:{show:true,lineStyle:{color:'#fff',width:.5}}});
yAxes.push({type:'category',gridIndex:g,inverse:true,data:species,axisLine:{show:false,onZero:false},axisTick:Object.assign({show:true,alignWithLabel:true},tickStyle),splitLine:{show:true,alignWithLabel:true,lineStyle:{color:'#fff',width:1}},axisLabel:{fontFamily:SANS,fontStyle:'italic',fontSize:8.7,color:'#444',interval:0,align:'left',margin:105.7}});
series.push({type:'bar',name:'Pb sex share',xAxisIndex:g,yAxisIndex:g,barWidth:'90%',itemStyle:{color:'#595959'},data:pbSexShare});

// ---------- panel c: stacked bars ----------
const stMaj=[0,.25,.5,.75,1],stMin=[.125,.375,.625,.875];
g=addGrid(486.7,panelTop,656,panelBottom,{backgroundColor:'#EBEBEB',borderWidth:0});
xAxes.push({type:'value',gridIndex:g,min:-0.049,max:1.08,axisLine:{show:false,onZero:false},axisTick:Object.assign({show:true,customValues:stMaj},tickStyle),axisLabel:{fontFamily:DJV,fontSize:7.8,color:'#4d4d4d',margin:5,customValues:stMaj,formatter:v=>v.toFixed(2)},splitLine:{show:true,lineStyle:{color:'#fff',width:1}}});
yAxes.push({type:'value',gridIndex:g,min:0,max:1,show:false});
g=addGrid(486.7,rowTop,656,rowBottom,{show:false});
xAxes.push({type:'value',gridIndex:g,min:-0.049,max:1.08,axisLine:{show:false,onZero:false},axisTick:{show:false,customValues:stMin},axisLabel:{show:false},splitLine:{show:true,lineStyle:{color:'#fff',width:.5}}});
yAxes.push({type:'category',gridIndex:g,inverse:true,data:species,axisLine:{show:false,onZero:false},axisTick:{show:false},axisLabel:{show:false},splitLine:{show:true,alignWithLabel:true,lineStyle:{color:'#fff',width:1}}});
[[sharedShare,'#619CFF'],[maleShare,'#00BA38'],[femaleShare,'#F8766D']].forEach((s,i)=>{
  const o={type:'bar',name:legendNames[i],stack:'gender',xAxisIndex:g,yAxisIndex:g,barWidth:'90%',itemStyle:{color:s[1]},data:s[0]};
  if(i===2)o.markLine={silent:true,symbol:'none',animation:false,label:{show:false},lineStyle:{color:'#000',type:[3,2],width:1},data:genderGuides.map(v=>({xAxis:v}))};
  series.push(o);
});

// ---------- free text ----------
const T=(x,y,text,font,extra)=>Object.assign({type:'text',x,y,z:20,silent:true,style:Object.assign({text,font,fill:'#111',textAlign:'center',textVerticalAlign:'middle'},extra||{})},{});
const titleFont='10.5px '+DJV,it={i:{fontStyle:'italic',fontFamily:DJV,fontSize:10.5,fill:'#111'}};
const stars='bold 14px '+SANS;
const graphic=[
 T(28,10,'a','bold 19px '+SANS),T(394,10,'b','bold 19px '+SANS),T(28,373,'c','bold 19px '+SANS),
 T(69,27,'♂','bold 28px '+DJV,{fill:'#0B9426'}),T(353.5,29,'♀','bold 28px '+DJV,{fill:'#D20F0F'}),
 T(433,27,'♂','bold 28px '+DJV,{fill:'#0B9426'}),T(718,29,'♀','bold 28px '+DJV,{fill:'#D20F0F'}),
 T(107,96,'***',stars),T(125,246,'***',stars),
 T(461,120,'***',stars),T(481,123,'***',stars),T(501.5,140,'***',stars),T(521.5,137,'***',stars),
 T(520.5,261,'***',stars),T(497,288,'***',stars),T(646.5,261,'***',stars),T(689,288,'***',stars),
 T(375,362.7,'Conservation',titleFont),T(375,375.5,'of {i|Pb} sex genes',titleFont,{rich:it}),
 T(570.7,362.7,'Conservation by gender',titleFont),T(570.7,375.5,'of {i|Pb} sex genes',titleFont,{rich:it}),
 T(375.5,718.5,'{i|Pb} sex /',titleFont,{rich:it}),T(375.5,731,'{i|Pb} total orthologous groups',titleFont,{rich:it}),
 T(571,718.5,'{i|Pb} gender-specific /',titleFont,{rich:it}),T(571,731,'{i|Pb} sex orthologous groups',titleFont,{rich:it}),
 T(98,469.5,'{i|Plasmodium} spp.','8.5px '+SANS,{fill:'#111',textAlign:'right',rich:{i:{fontStyle:'italic',fontFamily:SANS,fontSize:8.5,fill:'#111'}}}),
 T(54,558,'Apicomplexa','8.5px '+SANS,{textAlign:'right'})
];

echarts.init(document.getElementById('c'),null,{renderer:'canvas'}).setOption({
 animation:false,backgroundColor:'#fff',
 grid:grids,xAxis:xAxes,yAxis:yAxes,series,graphic,
 legend:{data:legendNames,orient:'vertical',left:672.3,top:516,itemWidth:16,itemHeight:16,itemGap:.6,padding:0,icon:'rect',selectedMode:false,textStyle:{fontFamily:SANS,fontSize:8.5,color:'#111',padding:[0,0,0,-2]}}
});
</script></body></html>
